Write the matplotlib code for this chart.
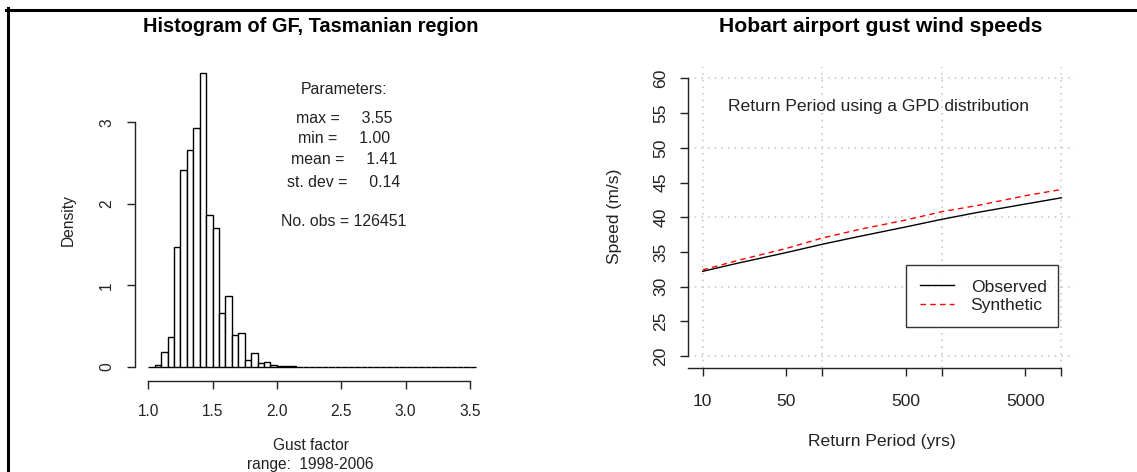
import matplotlib
matplotlib.use("Agg")
import matplotlib.pyplot as plt
from matplotlib.lines import Line2D

plt.rcParams["font.family"] = ["Liberation Sans", "DejaVu Sans"]

# %% data

# histogram of gust factor, bins of width 0.05 from 1.00 to 3.55
bin_width = 0.05
bin_lefts = [round(1.0 + bin_width * i, 2) for i in range(51)]
density = [0.0, 0.02, 0.18, 0.37, 1.47, 2.42, 2.66, 2.93, 3.61, 1.86,
           1.70, 0.66, 0.87, 0.39, 0.41, 0.08, 0.17, 0.05, 0.06, 0.025,
           0.008, 0.006, 0.005] + [0.0] * 28

param_lines = ["max =     3.55", "min =     1.00", "mean =     1.41",
               "st. dev =     0.14"]
param_y = [3.05, 2.80, 2.54, 2.26]
n_obs = 126451

# return period curves
return_period = [10, 20, 50, 100, 200, 500, 1000, 2000, 5000, 10000]
observed = [32.2, 33.4, 34.9, 36.1, 37.2, 38.6, 39.7, 40.7, 41.9, 42.8]
synthetic = [32.4, 33.8, 35.5, 37.0, 38.2, 39.6, 40.8, 41.7, 43.1, 44.0]

rp_ticks = [10, 50, 100, 500, 1000, 5000, 10000]
rp_labels = ["10", "50", "", "500", "", "5000", ""]
speed_ticks = list(range(20, 61, 5))

# %% figure

W, H = 1137, 472
fig = plt.figure(figsize=(W / 100, H / 100), dpi=100)


def px_axes(left, top, right, bottom):
    return fig.add_axes([left / W, 1 - bottom / H, (right - left) / W,
                         (bottom - top) / H])


def px_text(x, y, s, **kw):
    kw.setdefault("ha", "center")
    kw.setdefault("va", "center")
    fig.text(x / W, 1 - y / H, s, **kw)


def r_style(ax, fs):
    for side in ("top", "right"):
        ax.spines[side].set_visible(False)
    for side in ("left", "bottom"):
        ax.spines[side].set_linewidth(1.0)
        ax.spines[side].set_color("#222222")
    ax.tick_params(length=6, width=1.0, color="#222222", labelsize=fs,
                   labelcolor="#222222")


# left: histogram
ax1 = px_axes(135, 61.4, 489.4, 380.7)
ax1.bar(bin_lefts, density, width=bin_width, align="edge",
        facecolor="white", edgecolor="black", linewidth=1.0)
ax1.set_xlim(0.897, 3.652)
ax1.set_ylim(-0.172, 3.75)
r_style(ax1, 11.2)
ax1.set_xticks([1.0, 1.5, 2.0, 2.5, 3.0, 3.5])
ax1.set_xticklabels(["1.0", "1.5", "2.0", "2.5", "3.0", "3.5"])
ax1.set_yticks([0, 1, 2, 3])
ax1.spines["bottom"].set_bounds(1.0, 3.5)
ax1.spines["left"].set_bounds(0, 3)
ax1.tick_params(axis="x", pad=11)
ax1.tick_params(axis="y", pad=9)
for lab in ax1.get_yticklabels():
    lab.set_rotation(90)
    lab.set_va("center")

ax1.text(2.52, 3.41, "Parameters:", ha="center", va="center", fontsize=11.4,
         color="#222222")
for s, y in zip(param_lines, param_y):
    ax1.text(2.52, y, s, ha="center", va="center", fontsize=11.4,
             color="#222222")
ax1.text(2.52, 1.78, f"No. obs = {n_obs}", ha="center", va="center",
         fontsize=11.4, color="#222222")

px_text(310.7, 26, "Histogram of GF, Tasmanian region", fontsize=14.4,
        fontweight="bold")
px_text(68, 220, "Density", rotation=90, fontsize=11.2, color="#222222")
px_text(310.7, 446, "Gust factor", fontsize=11.2, color="#222222")
px_text(310.7, 465, "range:  1998-2006", fontsize=11.2, color="#222222")

# right: return period curves
ax2 = px_axes(688, 66.7, 1075, 367.7)
ax2.set_xscale("log")
ax2.set_xlim(10 ** 0.877, 10 ** 4.113)
ax2.set_ylim(18.3, 61.7)
for gx in [10, 100, 1000, 10000]:
    ax2.axvline(gx, color="#cccccc", linestyle=(0, (1, 3)), linewidth=1.2,
                zorder=0)
for gy in [20, 30, 40, 50, 60]:
    ax2.axhline(gy, color="#cccccc", linestyle=(0, (1, 3)), linewidth=1.2,
                zorder=0)
ax2.plot(return_period, observed, color="black", linewidth=1.0,
         label="Observed")
ax2.plot(return_period, synthetic, color="red", linewidth=1.0,
         linestyle=(0, (4, 3)), label="Synthetic")
r_style(ax2, 12.6)
ax2.set_xticks(rp_ticks)
ax2.set_xticklabels(rp_labels)
ax2.minorticks_off()
ax2.set_yticks(speed_ticks)
ax2.spines["bottom"].set_bounds(10 ** 0.877, 10000)
ax2.spines["left"].set_bounds(20, 60)
ax2.tick_params(axis="x", pad=13)
ax2.tick_params(axis="y", pad=8)
for lab in ax2.get_yticklabels():
    lab.set_rotation(90)
    lab.set_va("center")

ax2.text(295, 56.0, "Return Period using a GPD distribution", ha="center",
         va="center", fontsize=12.6, color="#222222")
leg = ax2.legend(loc="lower left", bbox_to_anchor=(0.563, 0.134, 0.392, 0.2),
                 mode="expand", fontsize=12.6, frameon=True, fancybox=False,
                 borderaxespad=0, borderpad=0.8, handlelength=1.95,
                 handletextpad=0.95, labelspacing=0.2)
leg.get_frame().set_edgecolor("black")
leg.get_frame().set_linewidth(1.0)
for t in leg.get_texts():
    t.set_color("#222222")

px_text(881, 26, "Hobart airport gust wind speeds", fontsize=15.2,
        fontweight="bold")
px_text(615, 216.7, "Speed (m/s)", rotation=90, fontsize=12.6,
        color="#222222")
px_text(882, 441.7, "Return Period (yrs)", fontsize=12.6, color="#222222")

# outer frame: left and top edges only
fig.add_artist(Line2D([7.5 / W, 7.5 / W], [0, 1 - 8 / H], color="black",
                      linewidth=2.2, transform=fig.transFigure))
fig.add_artist(Line2D([6 / W, 1], [1 - 9.5 / H, 1 - 9.5 / H], color="black",
                      linewidth=2.2, transform=fig.transFigure))

fig.savefig("out.png", dpi=100, facecolor="white")
